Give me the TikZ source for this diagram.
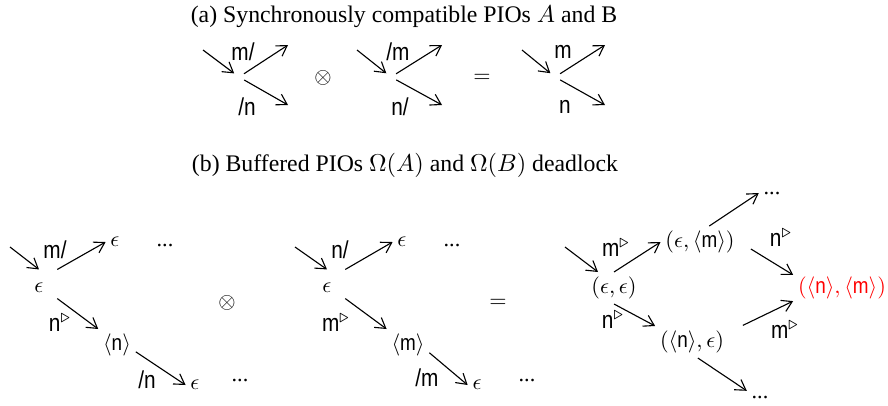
\documentclass[tikz,border=0pt]{standalone}
\usepackage{fontspec}
\setmainfont{Liberation Serif}
\setsansfont{Liberation Sans}[FakeStretch=0.85]
\usepackage{tikz}
\usetikzlibrary{arrows.meta}

\tikzset{
  tr/.style={-{Straight Barb[length=4.5pt,width=5.5pt]}, line width=0.5pt},
  pt/.style={circle, minimum size=5pt, inner sep=0pt},
  init/.style={inner sep=6pt},
  st/.style={inner sep=2pt},
  msg/.style={font=\fontsize{11}{13}\sffamily, inner sep=1pt},
  ttl/.style={font=\fontsize{10.7}{13}\selectfont},
}
\newcommand{\ms}[1]{\textsf{#1}}
\newcommand{\snd}[1]{\ms{#1}$^{\triangleright}$}

\begin{document}
\begin{tikzpicture}[x=0.45pt, y=-0.45pt]
\useasboundingbox (0,0) rectangle (888,405);
% titles
\node[ttl] (ta) at (404,17) {(a) Synchronously compatible PIOs $A$ and B};
\node[ttl] (tb) at (405,165) {(b) Buffered PIOs $\Omega(A)$ and $\Omega(B)$ deadlock};

% (a) PIO A
\node[pt] (sa) at (239,77) {};
\coordinate (sa-in) at (203,50);
\coordinate (sa-up) at (288,45);
\coordinate (sa-dn) at (288,105);
\draw[tr] (sa-in) -- (sa);
\draw[tr] (sa) -- (sa-up);
\draw[tr] (sa) -- (sa-dn);
\node[msg] (la-up) at (243,52) {m/};
\node[msg] (la-dn) at (247,107) {/n};
\node (ot-a) at (323,78) {$\otimes$};

% (a) PIO B
\node[pt] (sb) at (391,77) {};
\coordinate (sb-in) at (357,50);
\coordinate (sb-up) at (442,45);
\coordinate (sb-dn) at (442,105);
\draw[tr] (sb-in) -- (sb);
\draw[tr] (sb) -- (sb-up);
\draw[tr] (sb) -- (sb-dn);
\node[msg] (lb-up) at (398,52) {/m};
\node[msg] (lb-dn) at (400,107) {n/};
\node (eq-a) at (482,78) {$=$};

% (a) product
\node[pt] (sc) at (555,77) {};
\coordinate (sc-in) at (522,50);
\coordinate (sc-up) at (605,45);
\coordinate (sc-dn) at (605,105);
\draw[tr] (sc-in) -- (sc);
\draw[tr] (sc) -- (sc-up);
\draw[tr] (sc) -- (sc-dn);
\node[msg] (lc-up) at (563,52) {m};
\node[msg] (lc-dn) at (565,107) {n};

% (b) Omega(A)
\coordinate (l-in) at (10,247);
\node[init] (l0) at (39,288) {$\epsilon$};
\node[st] (l1) at (115,242) {$\epsilon$};
\node (l1d) at (165,245) {...};
\node[st] (l2) at (117,345) {$\langle\ms{n}\rangle$};
\node[st] (l3) at (195,385) {$\epsilon$};
\node (l3d) at (240,380) {...};
\draw[tr] (l-in) -- (l0.north);
\draw[tr] (l0.north east) -- (l1.west);
\draw[tr] (l0.-30) -- (l2.north west);
\draw[tr] (l2.-20) -- (l3.west);
\node[msg] (ll1) at (55,250) {m/};
\node[msg] (ll2) at (60,323) {\snd{n}};
\node[msg] (ll3) at (147,380) {/n};
\node (ot-b) at (227,303) {$\otimes$};

% (b) Omega(B)
\coordinate (m-in) at (295,247);
\node[init] (m0) at (327,288) {$\epsilon$};
\node[st] (m1) at (402,242) {$\epsilon$};
\node (m1d) at (452,245) {...};
\node[st] (m2) at (408,345) {$\langle\ms{m}\rangle$};
\node[st] (m3) at (477,385) {$\epsilon$};
\node (m3d) at (527,380) {...};
\draw[tr] (m-in) -- (m0.north);
\draw[tr] (m0.north east) -- (m1.west);
\draw[tr] (m0.-30) -- (m2.north west);
\draw[tr] (m2.-20) -- (m3.west);
\node[msg] (lm1) at (340,250) {n/};
\node[msg] (lm2) at (336,323) {\snd{m}};
\node[msg] (lm3) at (427,378) {/m};
\node (eq-b) at (498,303) {$=$};

% (b) product, deadlock
\coordinate (r-in) at (565,247);
\node[st] (r0) at (614,288) {$(\epsilon,\epsilon)$};
\node[st] (r1) at (700,242) {$(\epsilon,\langle\ms{m}\rangle)$};
\node[st] (r2) at (692,342) {$(\langle\ms{n}\rangle,\epsilon)$};
\node[st, text=red] (r3) at (842,288) {$(\langle\ms{n}\rangle,\langle\ms{m}\rangle)$};
\node[st] (rd1) at (772,193) {...};
\node[st] (rd2) at (760,397) {...};
\draw[tr] (r-in) -- (r0.135);
\draw[tr] (r0.north) -- (r1.west);
\draw[tr] (r0.south) -- (r2.north west);
\draw[tr] (r1.60) -- (rd1.west);
\draw[tr, shorten <=6pt] (r1.east) -- (r3.165);
\draw[tr, shorten <=7pt] (r2.15) -- (r3.195);
\draw[tr] (r2.-70) -- (rd2.north west);
\node[msg] (lr1) at (616,248) {\snd{m}};
\node[msg] (lr2) at (613,320) {\snd{n}};
\node[msg] (lr3) at (781,238) {\snd{n}};
\node[msg] (lr4) at (785,330) {\snd{m}};
\end{tikzpicture}
\end{document}
